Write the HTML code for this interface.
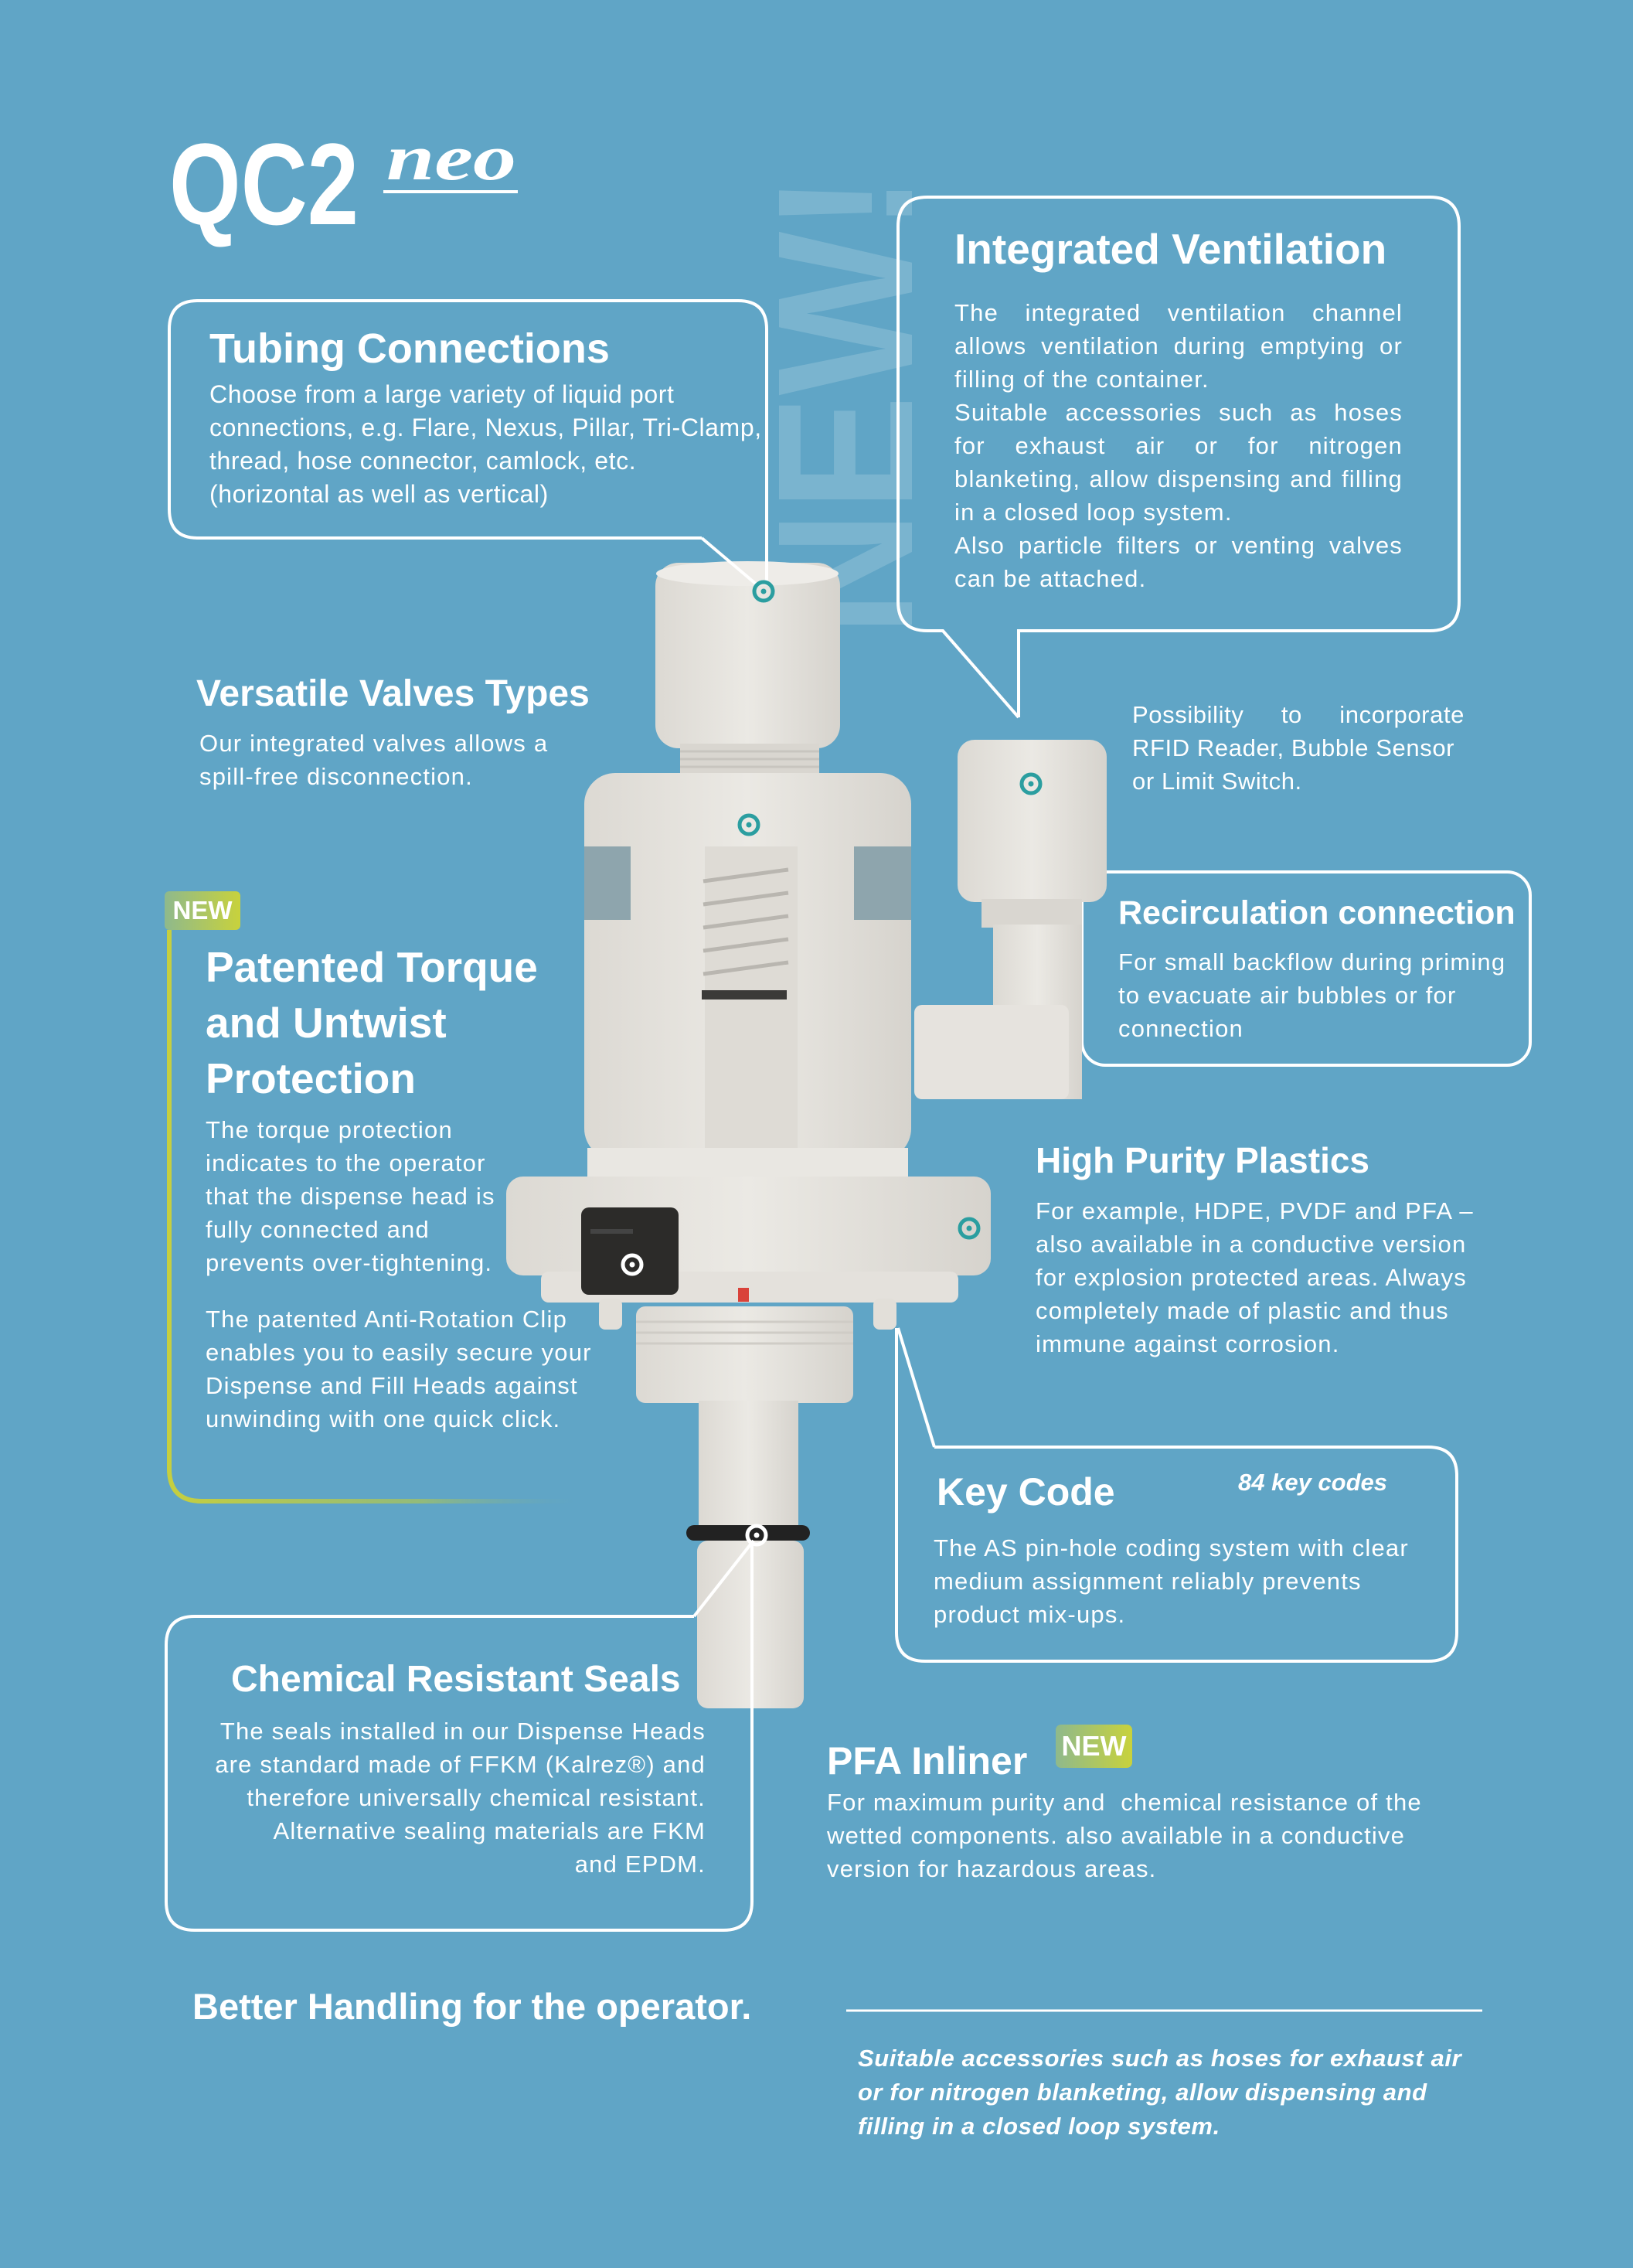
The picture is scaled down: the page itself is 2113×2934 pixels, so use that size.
<!DOCTYPE html>
<html><head><meta charset="utf-8">
<style>
html,body{margin:0;padding:0}
body{width:2113px;height:2934px;background:#60a5c6;position:relative;overflow:hidden;font-family:"Liberation Sans",sans-serif;color:#fff}
.t{position:absolute;white-space:nowrap}
.h{font-weight:bold;font-size:54px;line-height:70px}
.b{font-size:31px;line-height:43px}
.j{white-space:normal;text-align:justify;text-align-last:left}
.jl{display:block;text-align:justify;text-align-last:justify}
.m{letter-spacing:1.2px}
svg{position:absolute;left:0;top:0}
</style></head><body>
<svg width="2113" height="2934" viewBox="0 0 2113 2934">
<defs>
<linearGradient id="gg" x1="0" x2="1" y1="0" y2="0"><stop offset="0" stop-color="#c6cf3f"/><stop offset="0.6" stop-color="#a9c45a" stop-opacity="0.7"/><stop offset="1" stop-color="#60a5c6" stop-opacity="0"/></linearGradient>
<linearGradient id="nb" x1="0" x2="1"><stop offset="0" stop-color="#8fb98c"/><stop offset="1" stop-color="#c8d23c"/></linearGradient>
<linearGradient id="cap" x1="0" x2="1"><stop offset="0" stop-color="#dcd9d3"/><stop offset="0.5" stop-color="#ebe9e4"/><stop offset="1" stop-color="#d6d3cd"/></linearGradient>
</defs>
<text x="0" y="0" transform="translate(1180,823) rotate(-90)" font-family="Liberation Sans" font-weight="bold" font-size="250" fill="#ffffff" fill-opacity="0.17" textLength="598" lengthAdjust="spacingAndGlyphs">NEW!</text>
<text x="219" y="290" font-family="Liberation Sans" font-weight="bold" font-size="150" fill="#fff" textLength="245" lengthAdjust="spacingAndGlyphs">QC2</text>
<text x="500" y="232" font-family="Liberation Serif" font-style="italic" font-weight="bold" font-size="84" fill="#fff" textLength="168" lengthAdjust="spacingAndGlyphs">neo</text>
<line x1="496" y1="248" x2="670" y2="248" stroke="#fff" stroke-width="4"/>
<rect x="1400" y="1128" width="580" height="250" rx="30" fill="none" stroke="#fff" stroke-width="4"/>
<line x1="311" y1="1177" x2="760" y2="1177" stroke="url(#gg)" stroke-width="5"/>
<path d="M219,1203 V1900 Q219,1942 261,1942 H760" fill="none" stroke="url(#gg)" stroke-width="6"/>
<rect x="213" y="1153" width="98" height="50" rx="6" fill="url(#nb)"/>
<g>
<rect x="848" y="728" width="239" height="240" rx="30" fill="url(#cap)"/>
<ellipse cx="967" cy="742" rx="118" ry="16" fill="#eeece8"/>
<rect x="880" y="962" width="180" height="40" fill="#d9d6d0"/>
<g stroke="#c8c5bf" stroke-width="3"><line x1="880" y1="972" x2="1060" y2="972"/><line x1="880" y1="982" x2="1060" y2="982"/><line x1="880" y1="992" x2="1060" y2="992"/></g>
<rect x="756" y="1000" width="423" height="500" rx="40" fill="url(#cap)"/>
<rect x="756" y="1095" width="60" height="95" fill="#8ea5ad"/>
<rect x="1105" y="1095" width="74" height="95" fill="#8ea5ad"/>
<rect x="912" y="1095" width="120" height="400" fill="#dedbd5"/>
<g stroke="#b9b6b0" stroke-width="5"><line x1="910" y1="1140" x2="1020" y2="1125"/><line x1="910" y1="1170" x2="1020" y2="1155"/><line x1="910" y1="1200" x2="1020" y2="1185"/><line x1="910" y1="1230" x2="1020" y2="1215"/><line x1="910" y1="1260" x2="1020" y2="1245"/></g>
<rect x="908" y="1281" width="110" height="12" fill="#3b3a38"/>
<rect x="760" y="1485" width="415" height="40" fill="#e9e7e2"/>
<rect x="655" y="1522" width="627" height="128" rx="22" fill="url(#cap)"/>
<rect x="700" y="1645" width="540" height="40" rx="10" fill="#e4e1dc"/>
<rect x="752" y="1562" width="126" height="113" rx="10" fill="#2c2b29"/>
<rect x="764" y="1590" width="55" height="6" fill="#444"/>
<rect x="955" y="1666" width="14" height="18" fill="#d9423a"/>
<rect x="775" y="1680" width="30" height="40" rx="8" fill="#e2dfd9"/>
<rect x="1130" y="1680" width="30" height="40" rx="8" fill="#e2dfd9"/>
<rect x="823" y="1690" width="281" height="125" rx="12" fill="url(#cap)"/>
<g stroke="#cfccc6" stroke-width="3"><line x1="823" y1="1710" x2="1104" y2="1710"/><line x1="823" y1="1724" x2="1104" y2="1724"/><line x1="823" y1="1738" x2="1104" y2="1738"/></g>
<rect x="904" y="1812" width="129" height="175" fill="url(#cap)"/>
<rect x="888" y="1973" width="160" height="20" rx="10" fill="#222"/>
<rect x="902" y="1993" width="138" height="217" rx="14" fill="url(#cap)"/>
<rect x="1239" y="957" width="193" height="210" rx="22" fill="url(#cap)"/>
<rect x="1270" y="1163" width="130" height="37" fill="#d9d6d0"/>
<rect x="1285" y="1196" width="115" height="226" fill="url(#cap)"/>
<rect x="1183" y="1300" width="200" height="122" rx="10" fill="#e6e3de"/>
</g>
<g fill="none" stroke="#fff" stroke-width="4">
<path d="M908,696 H256 Q219,696 219,659 V426 Q219,389 256,389 H955 Q992,389 992,426 V752"/>
<line x1="908" y1="696" x2="980" y2="757"/>
<path d="M1318,928 V816 H1850 Q1888,816 1888,778 V293 Q1888,255 1850,255 H1200 Q1162,255 1162,293 V778 Q1162,816 1200,816 H1220 L1318,928"/>
<path d="M1209,1872 H1848 Q1885,1872 1885,1909 V2112 Q1885,2149 1848,2149 H1197 Q1160,2149 1160,2112 V1718"/>
<line x1="1209" y1="1872" x2="1162" y2="1718"/>
<path d="M898,2091 H252 Q215,2091 215,2128 V2460 Q215,2497 252,2497 H936 Q973,2497 973,2460 V1996"/>
<line x1="898" y1="2091" x2="975" y2="1993"/>
<line x1="1095" y1="2601" x2="1918" y2="2601" stroke-width="3"/>
</g>
<g fill="none" stroke="#2b9ea0" stroke-width="5">
<circle cx="988" cy="765" r="12"/><circle cx="969" cy="1067" r="12"/><circle cx="1334" cy="1014" r="12"/><circle cx="1254" cy="1589" r="12"/>
</g>
<g fill="#2b9ea0"><circle cx="988" cy="765" r="3.5"/><circle cx="969" cy="1067" r="3.5"/><circle cx="1334" cy="1014" r="3.5"/><circle cx="1254" cy="1589" r="3.5"/></g>
<g fill="none" stroke="#fff" stroke-width="5"><circle cx="818" cy="1636" r="12"/><circle cx="979" cy="1986" r="12"/></g>
<g fill="#fff"><circle cx="818" cy="1636" r="3.5"/><circle cx="979" cy="1986" r="3.5"/></g>
<rect x="1366" y="2231" width="99" height="56" rx="7" fill="url(#nb)"/>
</svg>

<div class="t h" style="left:271px;top:416px">Tubing Connections</div>
<div class="t b" style="left:271px;top:489px;font-size:32px;letter-spacing:0.6px">Choose from a large variety of liquid port<br>connections, e.g. Flare, Nexus, Pillar, Tri-Clamp,<br>thread, hose connector, camlock, etc.<br>(horizontal as well as vertical)</div>

<div class="t h" style="left:1235px;top:287px;font-size:55px">Integrated Ventilation</div>
<div class="t b j m" style="left:1235px;top:383px;width:580px">The integrated ventilation channel allows ventilation during emptying or filling of the container.<br>Suitable accessories such as hoses for exhaust air or for nitrogen blanketing, allow dispensing and filling in a closed loop system.<br>Also particle filters or venting valves can be attached.</div>

<div class="t h" style="left:254px;top:863px;font-size:48px">Versatile Valves Types</div>
<div class="t b m" style="left:258px;top:940px">Our integrated valves allows a<br>spill-free disconnection.</div>

<div class="t" style="left:213px;top:1153px;width:98px;line-height:50px;text-align:center;font-weight:bold;font-size:33px">NEW</div>
<div class="t h" style="left:266px;top:1215px;font-size:55px;line-height:72px">Patented Torque<br>and Untwist<br>Protection</div>
<div class="t b m" style="left:266px;top:1440px">The torque protection<br>indicates to the operator<br>that the dispense head is<br>fully connected and<br>prevents over-tightening.</div>
<div class="t b m" style="left:266px;top:1685px">The patented Anti-Rotation Clip<br>enables you to easily secure your<br>Dispense and Fill Heads against<br>unwinding with one quick click.</div>

<div class="t b" style="left:1465px;top:903px;width:430px;letter-spacing:0.6px"><span class="jl">Possibility to incorporate</span><span style="display:block">RFID Reader, Bubble Sensor</span><span style="display:block">or Limit Switch.</span></div>

<div class="t h" style="left:1447px;top:1146px;font-size:43px">Recirculation connection</div>
<div class="t b m" style="left:1447px;top:1223px">For small backflow during priming<br>to evacuate air bubbles or for<br>connection</div>

<div class="t h" style="left:1340px;top:1466px;font-size:46px">High Purity Plastics</div>
<div class="t b m" style="left:1340px;top:1545px">For example, HDPE, PVDF and PFA –<br>also available in a conductive version<br>for explosion protected areas. Always<br>completely made of plastic and thus<br>immune against corrosion.</div>

<div class="t h" style="left:1212px;top:1895px;font-size:50px">Key Code</div>
<div class="t" style="left:1602px;top:1898px;font-size:31px;font-weight:bold;font-style:italic;line-height:40px">84 key codes</div>
<div class="t b m" style="left:1208px;top:1981px">The AS pin-hole coding system with clear<br>medium assignment reliably prevents<br>product mix-ups.</div>

<div class="t h" style="left:299px;top:2138px;font-size:48px">Chemical Resistant Seals</div>
<div class="t b m" style="right:1200px;top:2218px;text-align:right">The seals installed in our Dispense Heads<br>are standard made of FFKM (Kalrez®) and<br>therefore universally chemical resistant.<br>Alternative sealing materials are FKM<br>and EPDM.</div>

<div class="t h" style="left:1070px;top:2243px;font-size:50px">PFA Inliner</div>
<div class="t" style="left:1366px;top:2231px;width:99px;line-height:56px;text-align:center;font-weight:bold;font-size:36px">NEW</div>
<div class="t b m" style="left:1070px;top:2310px">For maximum purity and&nbsp; chemical resistance of the<br>wetted components. also available in a conductive<br>version for hazardous areas.</div>

<div class="t h" style="left:249px;top:2561px;font-size:47px">Better Handling for the operator.</div>
<div class="t" style="left:1110px;top:2641px;font-size:31px;line-height:44px;font-weight:bold;font-style:italic;letter-spacing:0.6px">Suitable accessories such as hoses for exhaust air<br>or for nitrogen blanketing, allow dispensing and<br>filling in a closed loop system.</div>
</body></html>
